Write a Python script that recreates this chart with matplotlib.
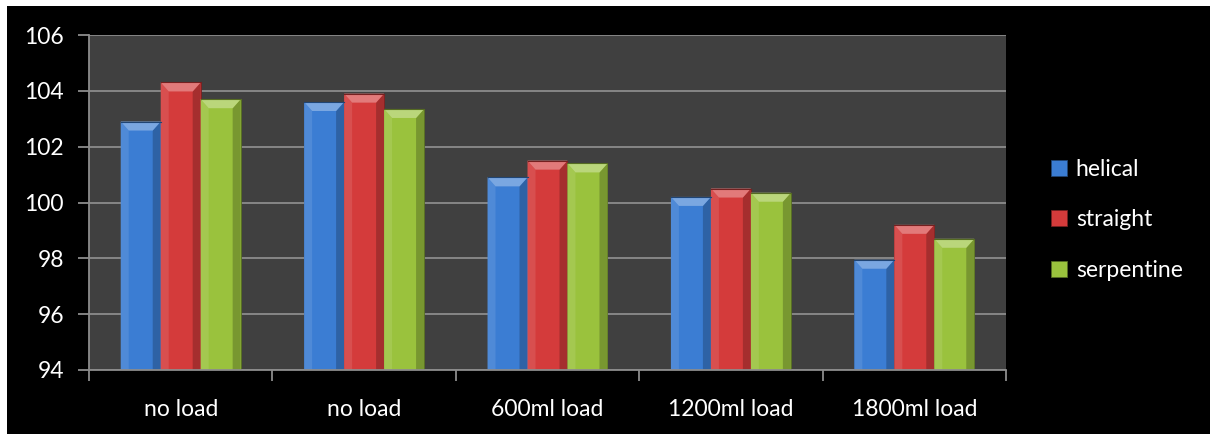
import matplotlib
matplotlib.use("Agg")
import matplotlib.pyplot as plt
from matplotlib.patches import Polygon, Rectangle
from matplotlib.colors import to_rgb
import numpy as np

# ---- data -------------------------------------------------------------
categories = ["no load", "no load", "600ml load", "1200ml load", "1800ml load"]
series_names = ["helical", "straight", "serpentine"]
helical = [102.9, 103.6, 100.9, 100.2, 97.95]
straight = [104.3, 103.9, 101.5, 100.5, 99.2]
serpentine = [103.7, 103.35, 101.4, 100.35, 98.7]
y_ticks = [94, 96, 98, 100, 102, 104, 106]

series_values = [helical, straight, serpentine]
colors = ["#3B7DD3", "#D43B3B", "#9AC23D"]

plt.rcParams["font.family"] = ["Lato", "DejaVu Sans"]

fig = plt.figure(figsize=(12.1, 4.34), dpi=100, facecolor="white")
# black chart background with a thin white margin on the top and left
fig.patches.append(Rectangle((7 / 1210, 0), 1 - 7 / 1210, 1 - 6 / 434,
                             transform=fig.transFigure, facecolor="black",
                             edgecolor="none", zorder=-10))

ax = fig.add_axes([89 / 1210, 1 - 370 / 434, (1006 - 89) / 1210, (370 - 35) / 434])
ax.set_facecolor("#404040")

ymin, ymax = y_ticks[0], y_ticks[-1]
ax.set_ylim(ymin, ymax)
ax.set_xlim(-0.5, len(categories) - 0.5)

w = 0.218
x = np.arange(len(categories))


def shade(c, f):
    r, g, b = to_rgb(c)
    if f >= 0:
        return (r + (1 - r) * f, g + (1 - g) * f, b + (1 - b) * f)
    return (r * (1 + f), g * (1 + f), b * (1 + f))


# pixel size of the bevel, converted to data units
px_x = (len(categories)) / (1006 - 89)
px_y = (ymax - ymin) / (370 - 35)
bx, by = 8 * px_x, 9 * px_y

handles = []
for i, (name, vals, col) in enumerate(zip(series_names, series_values, colors)):
    pos = x + (i - 1) * w
    heights = [v - ymin for v in vals]
    bars = ax.bar(pos, heights, width=w, bottom=ymin, color=col,
                  edgecolor=shade(col, -0.45), linewidth=0.6, zorder=3, label=name)
    handles.append(bars)
    for rect in bars:
        x0 = rect.get_x()
        x1 = x0 + rect.get_width()
        y0 = rect.get_y()
        top = y0 + rect.get_height()
        left = Polygon([(x0, y0), (x0, top), (x0 + bx, top - by), (x0 + bx, y0)],
                       closed=True, facecolor=shade(col, 0.10), edgecolor="none", zorder=4)
        right = Polygon([(x1, y0), (x1, top), (x1 - bx, top - by), (x1 - bx, y0)],
                        closed=True, facecolor=shade(col, -0.22), edgecolor="none", zorder=4)
        topf = Polygon([(x0, top), (x1, top), (x1 - bx, top - by), (x0 + bx, top - by)],
                       closed=True, facecolor=shade(col, 0.32), edgecolor="none", zorder=5)
        for p in (left, right, topf):
            ax.add_patch(p)
        ax.plot([x0, x1], [top, top], color=shade(col, -0.45), lw=0.8, zorder=6)

# grid and axes styling
ax.set_yticks(y_ticks)
ax.yaxis.grid(True, color="#8C8C8C", linewidth=1.3, zorder=1)
ax.set_axisbelow(True)
for s in ("top", "right"):
    ax.spines[s].set_visible(False)
for s in ("left", "bottom"):
    ax.spines[s].set_color("#8C8C8C")
    ax.spines[s].set_linewidth(1.3)
    ax.spines[s].set_zorder(7)

ax.tick_params(axis="y", colors="#8C8C8C", length=8, width=1.3, labelcolor="white",
               labelsize=16.5, pad=10)
# category ticks at the group boundaries, labels centred on the groups
ax.set_xticks(np.arange(len(categories) + 1) - 0.5)
ax.set_xticklabels([])
ax.set_xticks(x, minor=True)
ax.set_xticklabels(categories, minor=True)
ax.tick_params(axis="x", which="major", colors="#8C8C8C", length=8, width=1.3)
ax.tick_params(axis="x", which="minor", length=0, labelcolor="white", labelsize=16.5, pad=21)

leg = fig.legend(handles=handles, labels=series_names, loc="center left",
                 bbox_to_anchor=(1030 / 1210, 1 - 220 / 434), frameon=False,
                 fontsize=16.5, labelcolor="white", handlelength=0.7, handleheight=0.7,
                 handletextpad=0.4, labelspacing=1.3)

fig.savefig("out.png", dpi=100, facecolor=fig.get_facecolor())
